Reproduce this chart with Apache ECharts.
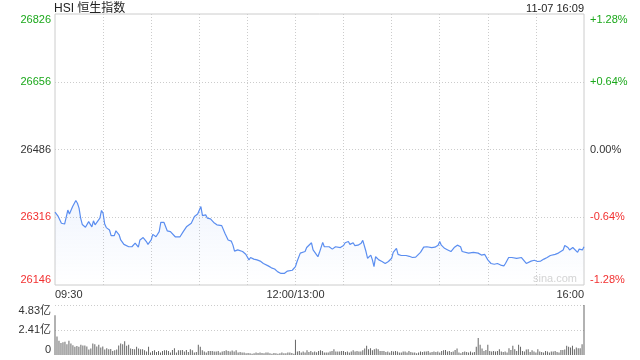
<!DOCTYPE html>
<html><head><meta charset="utf-8">
<script src="https://cdn.jsdelivr.net/npm/echarts@6/dist/echarts.min.js"></script>
<style>html,body{margin:0;padding:0;background:#fff}#c{width:640px;height:360px}</style>
</head><body><div id="c"></div>
<script>
const titleText = 'HSI 恒生指数';
const stampText = '11-07 16:09';
const watermark = 'sina.com';
const prevClose = 26486;
const priceMin = 26146, priceMax = 26826, priceStep = 170;
const timeLabels = {0: '09:30', 150: '12:00/13:00', 330: '16:00'};
const volTickLabels = ['0', '2.41亿', '4.83亿'];
const volMax = 4.83;

// trading minutes since 09:30 (150 = 12:00/13:00, 330 = 16:00)
const minutes = [0,1,2,4,6,8,9,10,11,13,14,15,16,17,19,20,21,23,24,25,26,28,29,30,31,32,34,35,37,38,40,41,43,46,48,50,52,53,55,57,58,60,61,63,65,66,68,70,72,75,78,80,82,
83,85,87,89,91,92,93,94,95,97,99,101,104,105,106,108,110,111,112,114,115,117,119,121,122,124,126,128,130,131,133,135,137,139,141,143,145,146,148,150,151,153,154,156,157,158,160,161,162,164,165,
167,168,169,171,173,175,178,180,181,183,184,186,187,189,191,192,193,194,195,197,198,199,200,202,204,206,208,210,211,213,214,216,219,221,223,225,226,228,230,232,233,235,237,238,239,240,241,243,245,247,
249,251,253,254,255,258,261,262,264,266,268,269,270,272,273,274,276,278,280,281,283,285,288,289,291,292,294,295,297,299,300,301,303,305,307,309,310,312,314,315,317,318,320,321,323,324,326,327,329,330];

const prices = [26329,26330,26318,26301,26299,26334,26324,26320,26343,26358,26351,26339,26314,26298,26291,26288,26305,26292,26307,26297,26299,26314,26333,26326,26299,26290,26284,26270,26270,26282,26272,26259,26248,26242,26242,26251,26241,26259,26265,26255,26248,26259,26273,26267,26280,26303,26303,26282,26280,26267,26267,26280,26292,
26292,26301,26318,26324,26343,26320,26315,26322,26314,26312,26303,26297,26295,26292,26276,26259,26256,26246,26231,26234,26230,26230,26223,26209,26215,26211,26209,26206,26200,26203,26194,26189,26186,26179,26175,26175,26181,26178,26183,26192,26205,26226,26231,26230,26240,26245,26252,26234,26230,26217,26228,
26253,26242,26245,26242,26236,26242,26240,26245,26252,26255,26248,26252,26245,26246,26251,26258,26253,26230,26213,26221,26209,26192,26217,26209,26205,26200,26205,26213,26228,26238,26223,26220,26220,26218,26215,26216,26215,26228,26241,26242,26246,26240,26241,26240,26246,26255,26246,26238,26234,26230,
26240,26246,26242,26230,26226,26226,26228,26223,26226,26221,26223,26221,26209,26200,26205,26198,26200,26196,26194,26200,26215,26215,26213,26209,26215,26215,26200,26205,26206,26208,26213,26205,26206,26211,26215,26220,26217,26223,26226,26230,26234,26245,26240,26234,26240,26236,26228,26236,26234,26242];

// volume (亿), morning session bars 09:30-12:00
const amVolume = [3.85,1.78,1.38,1.15,1.22,1.28,1.05,1.38,1.12,0.95,
0.79,0.86,0.79,0.99,0.92,0.92,0.82,0.53,0.63,1.12,
1.05,0.82,0.99,0.72,0.82,0.53,0.66,0.56,0.59,0.39,
0.46,0.53,0.92,1.12,1.05,1.32,0.89,0.99,0.63,0.59,
0.56,0.79,0.63,0.56,0.56,0.46,0.33,0.79,0.23,0.39,
0.46,0.30,0.39,0.23,0.39,0.46,0.46,0.39,0.23,0.49,
0.66,0.23,0.46,0.46,0.49,0.33,0.49,0.30,0.56,0.46,
0.23,0.30,0.99,0.79,0.46,0.33,0.23,0.39,0.39,0.39,
0.33,0.33,0.39,0.23,0.33,0.39,0.46,0.39,0.33,0.43,
0.33,0.46,0.23,0.30,0.23,0.23,0.16,0.20,0.16,0.13,
0.16,0.23,0.20,0.23,0.20,0.16,0.23,0.23,0.16,0.13,
0.20,0.16,0.13,0.16,0.23,0.16,0.16,0.23,0.23,0.20,
0.13];

// volume (亿), afternoon session bars 13:00-16:00
const pmVolume = [1.48,0.33,0.39,0.23,0.33,0.23,0.46,0.30,0.39,0.26,0.33,0.26,0.39,
0.46,0.39,0.23,0.23,0.23,0.33,0.39,0.56,0.33,0.33,
0.33,0.39,0.39,0.30,0.33,0.23,0.33,0.46,0.33,0.39,
0.33,0.33,0.46,0.63,0.89,0.56,0.66,0.46,0.56,0.63,
0.56,0.39,0.39,0.39,0.30,0.33,0.23,0.39,0.33,0.39,
0.33,0.23,0.23,0.33,0.33,0.23,0.39,0.30,0.23,0.23,
0.16,0.23,0.33,0.30,0.33,0.33,0.39,0.23,0.30,0.33,
0.30,0.33,0.23,0.39,0.46,0.49,0.33,0.39,0.30,0.33,
0.49,0.63,0.23,0.16,0.30,0.33,0.30,0.23,0.33,0.23,
0.30,0.79,1.65,0.99,0.63,0.39,0.49,0.99,0.39,0.33,
0.39,0.33,0.39,0.56,0.33,0.30,0.33,0.23,0.66,0.49,
0.89,0.56,0.39,0.99,0.79,0.39,0.33,0.53,0.56,0.30,
0.46,0.33,0.23,0.56,0.33,0.30,0.23,0.39,0.33,0.23,
0.33,0.33,0.39,0.30,0.23,0.49,0.49,0.53,0.89,0.79,
0.72,0.89,0.56,0.72,0.66,0.66,1.05,4.83];

const FONT = "'Liberation Sans','Noto Sans CJK SC',Arial,sans-serif";
const GREEN = '#1ba81b', RED = '#f23030', DARK = '#333';
const colorFor = v => v > prevClose + 0.5 ? GREEN : (v < prevClose - 0.5 ? RED : DARK);
const pct = v => {
  const p = (v - prevClose) / prevClose * 100;
  if (Math.abs(p) < 0.005) return '0.00%';
  return (p > 0 ? '+' : '') + p.toFixed(2) + '%';
};

const lineData = minutes.map((m, i) => [m, prices[i]]);
const volData = [];
amVolume.forEach((v, i) => volData.push([i * 149 / (amVolume.length - 1), v]));
pmVolume.forEach((v, i) => volData.push([150 + i * 180 / (pmVolume.length - 1), v]));

const dotted = {show: true, lineStyle: {color: '#cccccc', type: [1, 2], width: 1}, showMinLine: false, showMaxLine: false};

const chart = echarts.init(document.getElementById('c'), null, {renderer: 'canvas'});
chart.setOption({
  animation: false,
  textStyle: {fontFamily: FONT},
  title: [
    {text: titleText, left: 49, top: -2, textStyle: {fontSize: 12, fontWeight: 'normal', color: '#222', fontFamily: FONT}},
    {text: stampText, right: 51, top: -2, textStyle: {fontSize: 11, fontWeight: 'normal', color: '#222', fontFamily: FONT}}
  ],
  grid: [
    {left: 55, right: 56, top: 14, height: 271, show: true, borderColor: '#cccccc', borderWidth: 1, backgroundColor: 'transparent'},
    {left: 55, right: 56, top: 305, height: 50}
  ],
  xAxis: [
    {type: 'value', gridIndex: 0, min: 0, max: 330, interval: 30,
     axisLine: {show: false}, axisTick: {show: false},
     splitLine: dotted,
     axisLabel: {show: true, margin: 4, fontSize: 11, color: DARK, fontFamily: FONT,
       showMinLabel: true, showMaxLabel: true, alignMinLabel: 'left', alignMaxLabel: 'right',
       formatter: v => timeLabels[v] || ''}},
    {type: 'value', gridIndex: 1, min: 0, max: 330, interval: 30,
     axisLine: {show: false}, axisTick: {show: false}, axisLabel: {show: false}, splitLine: {show: false}}
  ],
  yAxis: [
    {type: 'value', gridIndex: 0, position: 'left', min: priceMin, max: priceMax, interval: priceStep,
     axisLine: {show: false}, axisTick: {show: false}, splitLine: dotted,
     axisLabel: {margin: 4, fontSize: 11, fontFamily: FONT, color: v => colorFor(v),
       verticalAlignMinLabel: 'bottom', verticalAlignMaxLabel: 'top',
       formatter: v => String(Math.round(v))}},
    {type: 'value', gridIndex: 0, position: 'right', min: priceMin, max: priceMax, interval: priceStep,
     axisLine: {show: false}, axisTick: {show: false}, splitLine: {show: false},
     axisLabel: {margin: 6, fontSize: 11, fontFamily: FONT, color: v => colorFor(v),
       verticalAlignMinLabel: 'bottom', verticalAlignMaxLabel: 'top',
       formatter: v => pct(v)}},
    {type: 'value', gridIndex: 1, min: 0, max: volMax, interval: volMax / 2,
     axisLine: {show: false}, axisTick: {show: false},
     splitLine: {show: true, lineStyle: {color: '#cccccc', type: [1, 2], width: 1}, showMinLine: false},
     axisLabel: {margin: 4, fontSize: 11, fontFamily: FONT, color: DARK,
       verticalAlignMinLabel: 'bottom', verticalAlignMaxLabel: 'top',
       formatter: (v, i) => volTickLabels[i]}}
  ],
  graphic: [
    {type: 'text', left: 533, top: 273, silent: true,
     style: {text: watermark, fill: '#d4d4d4', fontSize: 11, fontFamily: FONT}}
  ],
  series: [
    {type: 'line', xAxisIndex: 0, yAxisIndex: 0, data: lineData, showSymbol: false, smooth: false,
     lineStyle: {color: '#5b8ef0', width: 1.2},
     areaStyle: {color: new echarts.graphic.LinearGradient(0, 0, 0, 1, [
       {offset: 0, color: 'rgba(91,142,240,0.12)'}, {offset: 1, color: 'rgba(91,142,240,0.0)'}])}},
    {type: 'bar', xAxisIndex: 1, yAxisIndex: 2, data: volData, barWidth: 1,
     itemStyle: {color: '#666666'}}
  ]
});
</script></body></html>
